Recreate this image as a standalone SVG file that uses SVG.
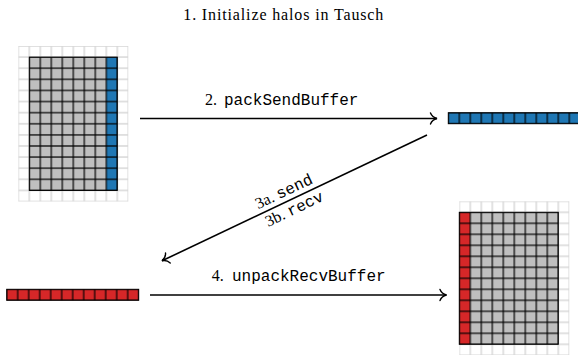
<svg xmlns="http://www.w3.org/2000/svg" width="578" height="355" viewBox="0 0 578 355">
<style>
.serif{font-family:"Liberation Serif","DejaVu Serif",serif;font-size:16px;fill:#000}
.mono{font-family:"Liberation Mono","DejaVu Sans Mono",monospace;font-size:16px}
.conn{fill:none;stroke:#000;stroke-width:1.6}
.light{fill:url(#lg)}
.dark{fill:url(#dg);stroke:#000;stroke-width:1}
.gray{fill:#bfbfbf}
.blue{fill:#1f77b4}
.red{fill:#d62728}
</style>
<defs>
<pattern id="lg" patternUnits="userSpaceOnUse" width="11" height="11">
<rect x="0" y="0" width="11" height="11" fill="#fff" stroke="#d6d6d6" stroke-width="1.4"/>
</pattern>
<pattern id="dg" patternUnits="userSpaceOnUse" width="11" height="11">
<rect x="0" y="0" width="11" height="11" fill="none" stroke="#000" stroke-width="1.2"/>
</pattern>
<marker id="arr" markerUnits="userSpaceOnUse" orient="auto" refX="0" refY="0" markerWidth="14" markerHeight="14" overflow="visible">
<path d="M-6.5,-5.5 C-5.2,-2.2 -2,-0.5 0,0 C-2,0.5 -5.2,2.2 -6.5,5.5" fill="none" stroke="#000" stroke-width="1.4" stroke-linecap="round"/>
</marker>
</defs>

<text id="title" class="serif" x="183.3" y="20" textLength="200" lengthAdjust="spacing">1. Initialize halos in Tausch</text>

<g id="grid-initial" transform="translate(18.3,46) scale(1,1.01)">
<rect class="light" x="0" y="0" width="110" height="154"/>
<rect class="gray" x="11" y="11" width="77" height="132"/>
<rect class="blue" x="88" y="11" width="11" height="132"/>
<rect class="dark" x="11" y="11" width="88" height="132"/>
</g>

<g id="send-buffer" transform="translate(448.3,112.7)">
<rect class="blue" x="0" y="0" width="132" height="11"/>
<rect class="dark" x="0" y="0" width="132" height="11"/>
</g>

<g id="recv-buffer" transform="translate(6.7,289.3)">
<rect class="red" x="0" y="0" width="132" height="11"/>
<rect class="dark" x="0" y="0" width="132" height="11"/>
</g>

<g id="grid-final" transform="translate(459.3,201.3)">
<rect class="light" x="0" y="0" width="110" height="154"/>
<rect class="red" x="0" y="11" width="11" height="132"/>
<rect class="gray" x="11" y="11" width="88" height="132"/>
<rect class="dark" x="0" y="11" width="99" height="132"/>
</g>

<g id="connectors">
<line class="conn" x1="140" y1="118.5" x2="437" y2="118.5" marker-end="url(#arr)"/>
<line class="conn" x1="427" y1="135" x2="162" y2="260.8" marker-end="url(#arr)"/>
<line class="conn" x1="150" y1="295" x2="446.5" y2="295" marker-end="url(#arr)"/>
<text class="serif" x="205" y="105">2. <tspan class="mono" x="224">packSendBuffer</tspan></text>
<g transform="translate(294.25,198) rotate(-25.4)">
<text class="serif" x="-6.6" y="-5.3" text-anchor="middle">3a. <tspan class="mono">send</tspan></text>
<text class="serif" x="-4.6" y="15" text-anchor="middle">3b. <tspan class="mono">recv</tspan></text>
</g>
<text class="serif" x="211.7" y="281">4. <tspan class="mono" x="232">unpackRecvBuffer</tspan></text>
</g>
</svg>
